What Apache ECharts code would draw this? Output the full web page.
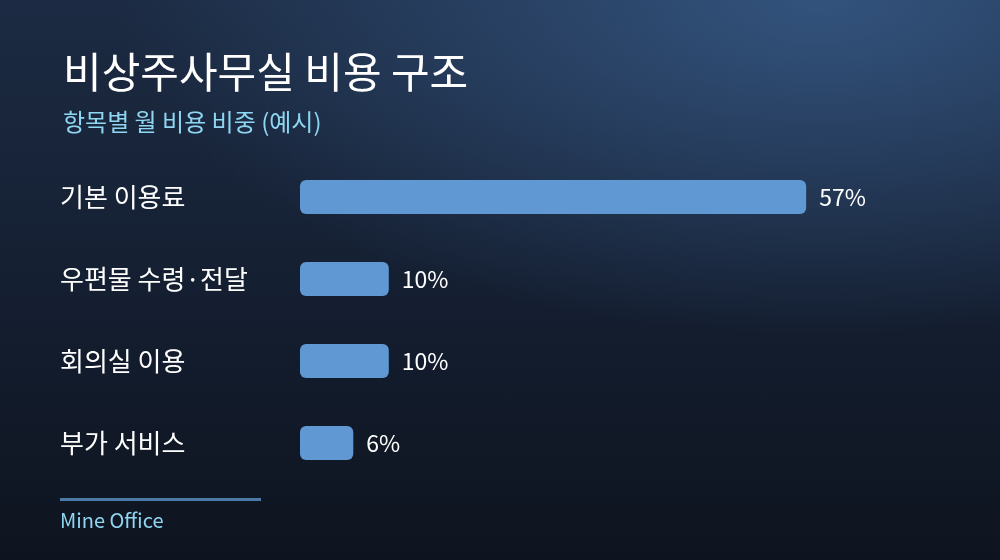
<!DOCTYPE html>
<html>
<head>
<meta charset="utf-8">
<script src="https://cdn.jsdelivr.net/npm/echarts@6/dist/echarts.min.js"></script>
<style>
  html, body { margin: 0; padding: 0; }
  #main {
    width: 1000px; height: 560px;
    background:
      radial-gradient(ellipse 70% 60% at 82% 0%, rgba(52, 85, 128, 0.95), rgba(52, 85, 128, 0) 100%),
      linear-gradient(180deg, #1c2b43 0%, #141e30 55%, #0e141f 100%);
  }
</style>
</head>
<body>
<div id="main"></div>
<script>
// 항목별 비용 비중
var categories = ['기본 이용료', '우편물 수령·전달', '회의실 이용', '부가 서비스'];
var shares = [57, 10, 10, 6];

var font = '"Noto Sans CJK KR", "Noto Sans", sans-serif';
var chart = echarts.init(document.getElementById('main'), null, { renderer: 'canvas' });

var option = {
  backgroundColor: 'transparent',
  title: {
    text: '비상주사무실 비용 구조',
    subtext: '항목별 월 비용 비중 (예시)',
    left: 58,
    top: 46,
    itemGap: 17,
    textStyle: { color: '#ffffff', fontSize: 42, fontWeight: 'normal', fontFamily: font },
    subtextStyle: { color: '#8fd6f2', fontSize: 24, fontFamily: font }
  },
  grid: { left: 300, top: 156, height: 328, width: 532.8 },
  xAxis: {
    type: 'value',
    min: 0,
    max: 60,
    show: false
  },
  yAxis: {
    type: 'category',
    data: categories,
    inverse: true,
    axisLine: { show: false },
    axisTick: { show: false },
    axisLabel: {
      color: '#ffffff',
      fontSize: 26,
      fontFamily: font,
      align: 'left',
      margin: 240
    }
  },
  series: [{
    type: 'bar',
    data: shares,
    barWidth: 34,
    itemStyle: { color: '#5f98d2', borderRadius: 6 },
    label: {
      show: true,
      position: 'right',
      distance: 13,
      color: '#ffffff',
      fontSize: 23,
      fontFamily: font,
      formatter: '{c}%'
    }
  }],
  graphic: [
    {
      type: 'rect',
      left: 60, top: 498,
      shape: { width: 201, height: 3 },
      style: { fill: '#4b79a8' }
    },
    {
      type: 'text',
      left: 60, top: 510,
      style: { text: 'Mine Office', fill: '#8fd6f2', fontSize: 20, fontFamily: font }
    }
  ]
};

chart.setOption(option);
</script>
</body>
</html>
